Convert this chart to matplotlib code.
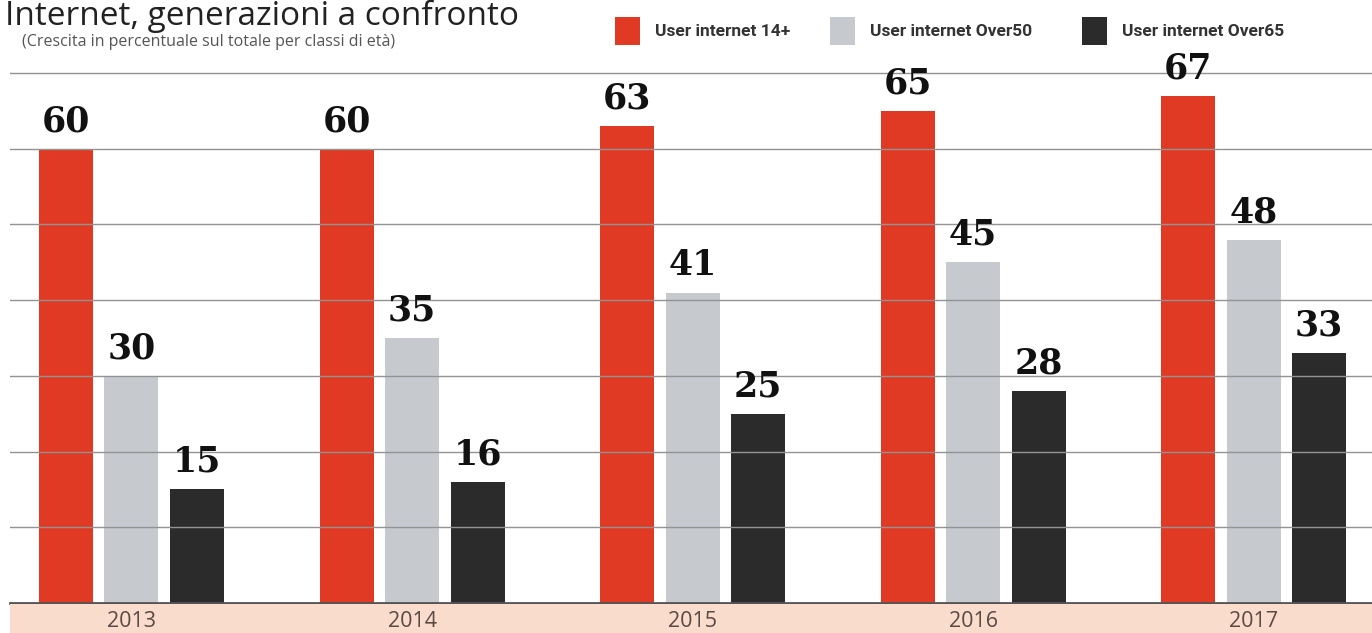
import matplotlib.pyplot as plt
import numpy as np
from matplotlib.patches import Rectangle

# Data
years = ["2013", "2014", "2015", "2016", "2017"]
users_14 = [60, 60, 63, 65, 67]
users_over50 = [30, 35, 41, 45, 48]
users_over65 = [15, 16, 25, 28, 33]
series_names = ["User internet 14+", "User internet Over50", "User internet Over65"]
grid_values = [10, 20, 30, 40, 50, 60, 70]

colors = ["#e03a25", "#c6cacf", "#2b2b2b"]

W, H = 1372, 633
fig = plt.figure(figsize=(W / 100, H / 100), dpi=100)

# plot area: x from 10px to right edge, baseline at 603px
ax = fig.add_axes([10 / W, (H - 603) / H, 1 - 10 / W, 603 / H])
ax.set_xlim(-0.433, 4.422)
ax.set_ylim(0, 603 / 75.7 * 10)

x = np.arange(len(years))
width = 0.1925
offset = 0.2335
for i, vals in enumerate([users_14, users_over50, users_over65]):
    bars = ax.bar(x + (i - 1) * offset, vals, width, color=colors[i], zorder=1)
    for b, v in zip(bars, vals):
        ax.text(b.get_x() + b.get_width() / 2, v + 1.4, str(v), ha="center", va="bottom",
                fontsize=25, fontweight="bold", family="DejaVu Serif", color="#111111")

ax.set_yticks(grid_values)
ax.grid(axis="y", color="#939393", linewidth=1.0, zorder=2)
ax.set_axisbelow(False)
ax.tick_params(left=False, bottom=False, labelleft=False, labelbottom=False)
for s in ["top", "left", "right"]:
    ax.spines[s].set_visible(False)
ax.spines["bottom"].set_color("#555555")
ax.spines["bottom"].set_linewidth(2)

# peach band with years
band = fig.add_axes([10 / W, 0, 1 - 10 / W, (H - 604) / H])
band.set_xlim(ax.get_xlim())
band.set_ylim(0, 1)
band.set_facecolor("#f9dccb")
for s in band.spines.values():
    s.set_visible(False)
band.set_xticks([])
band.set_yticks([])
for xi, y in zip(x, years):
    band.text(xi, 0.4, y, ha="center", va="center", fontsize=15.5, color="#5a4a44", family="Open Sans")

# title and subtitle
fig.text(5 / W, 1 - 25 / H, "Internet, generazioni a confronto", fontsize=24, family="Open Sans",
         color="#222222", va="baseline")
fig.text(22 / W, 1 - 46 / H, "(Crescita in percentuale sul totale per classi di età)", fontsize=11.5,
         family="Open Sans", color="#555555", va="baseline")

# legend
sq_x = [615, 830, 1082]
for sx, name, c in zip(sq_x, series_names, colors):
    fig.patches.append(Rectangle((sx / W, 1 - 45 / H), 25 / W, 28 / H, transform=fig.transFigure,
                                 facecolor=c, edgecolor="none"))
    fig.text((sx + 40) / W, 1 - 31 / H, name, fontsize=12.5, fontweight="bold",
             family="Roboto", color="#333333", va="center")

fig.savefig("out.png", dpi=100)
